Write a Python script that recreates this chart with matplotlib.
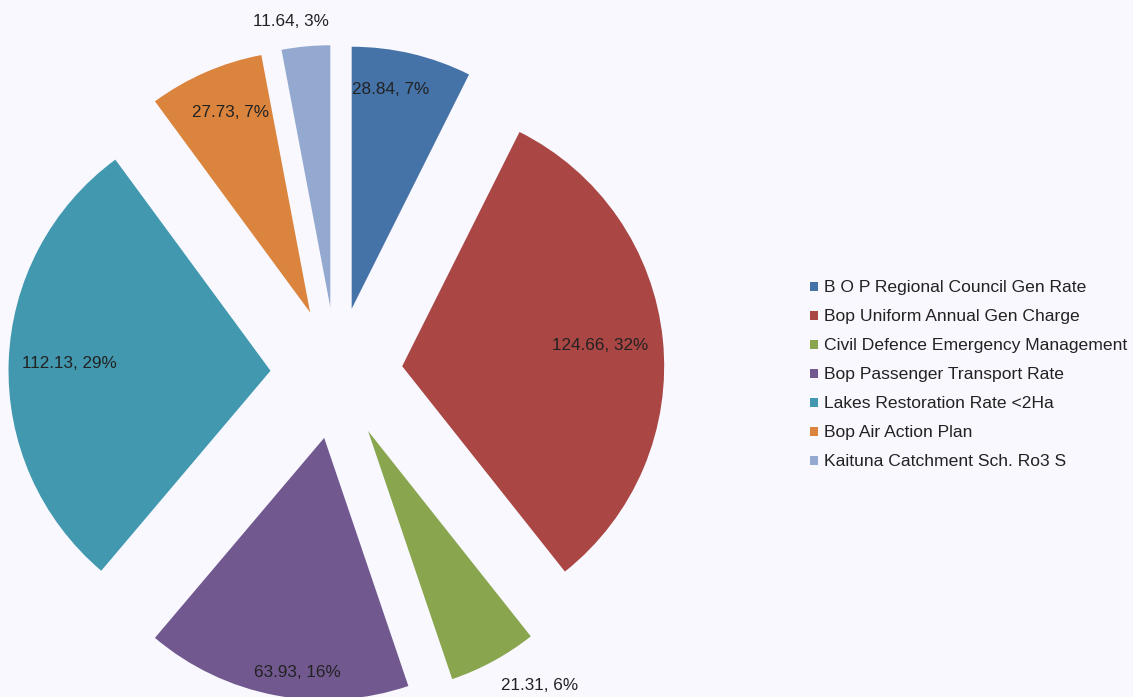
import matplotlib
matplotlib.use("Agg")
import matplotlib.pyplot as plt
import numpy as np

plt.rcParams['font.family'] = ['Liberation Sans', 'DejaVu Sans']

names = ["B O P Regional Council Gen Rate", "Bop Uniform Annual Gen Charge",
         "Civil Defence Emergency Management", "Bop Passenger Transport Rate",
         "Lakes Restoration Rate <2Ha", "Bop Air Action Plan",
         "Kaituna Catchment Sch. Ro3 S"]
values = [28.84, 124.66, 21.31, 63.93, 112.13, 27.73, 11.64]
percents = [7, 32, 6, 16, 29, 7, 3]
colors = ["#4572A7", "#AA4643", "#89A54E", "#71588F", "#4198AF", "#DB843D", "#93A9CF"]
# label placement relative to each slice's tip: distance (radii) and angle nudge (deg)
label_dist = [0.85, 0.76, 1.17, 0.90, 0.77, 0.82, 1.10]
label_turn = [3.3, 0, 5.4, 4.3, 0, -1.9, 2.5]

bg = "#F8F8FE"
W, H = 1133, 697
cx, cy, R = 336.5, 373, 262  # pie centre/radius in pixels

fig = plt.figure(figsize=(W / 100, H / 100), dpi=100, facecolor=bg)
ax = fig.add_axes([0, 0, 1, 1])
ax.set_facecolor(bg)

wedges, _ = ax.pie(values, colors=colors, startangle=90, counterclock=False,
                   explode=[0.252] * len(values), radius=1,
                   wedgeprops=dict(linewidth=0))

ax.set_xlim(-cx / R, (W - cx) / R)
ax.set_ylim(-(H - cy) / R, cy / R)
ax.set_aspect('equal')
ax.axis('off')

for w, v, p, d, t in zip(wedges, values, percents, label_dist, label_turn):
    mid = np.deg2rad((w.theta1 + w.theta2) / 2 + t)
    x0, y0 = w.center
    ax.text(x0 + d * np.cos(mid), y0 + d * np.sin(mid), f"{v}, {p}%",
            ha='center', va='center', fontsize=12.3, color='#222222')

ax.legend(wedges, names, loc='center left', bbox_to_anchor=(801 / W, 1 - 375 / H),
          bbox_transform=fig.transFigure, frameon=False, fontsize=12.6,
          handlelength=0.46, handleheight=0.46, handletextpad=0.35,
          labelspacing=0.8, borderpad=0, labelcolor='#222222')

fig.savefig("out.png", dpi=100, facecolor=bg)
